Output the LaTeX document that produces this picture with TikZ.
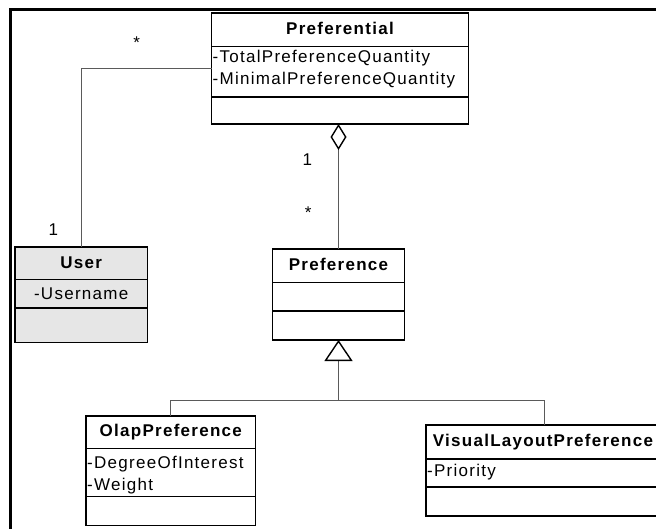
\documentclass[tikz,border=0pt]{standalone}
\usepackage{fontspec}
\setmainfont{Liberation Sans}
\newfontfamily\umlfont[LetterSpace=7.5]{Liberation Sans}
\usetikzlibrary{arrows.meta}
\definecolor{linkgray}{HTML}{5A5A5A}
\definecolor{userfill}{HTML}{E6E6E6}

% class box: name, left, top, right, divider 1, divider 2, bottom, fill
\newcommand\umlclass[8]{%
  \node[classbox, fill=#8, minimum width={#4-#2}, minimum height={#7-#3}] (#1) at (#2,#3) {};
  \draw[divider] (#2,#5) -- (#4,#5);
  \draw[divider] (#2,#6) -- (#4,#6);
}

\begin{document}
\begin{tikzpicture}[x=1pt, y=-1pt,
  classbox/.style={draw=black, line width=1.4pt, rectangle, inner sep=0pt, outer sep=0pt, anchor=north west},
  divider/.style={draw=black, line width=1.4pt},
  link/.style={draw=linkgray, line width=1pt},
  classname/.style={font=\umlfont\bfseries\fontsize{17}{20}\selectfont, anchor=base, inner sep=0pt},
  attrib/.style={font=\umlfont\fontsize{17}{20}\selectfont, anchor=base west, inner sep=0pt},
  mult/.style={font=\umlfont\fontsize{17}{20}\selectfont, anchor=base, inner sep=0pt},
  frame/.style={draw=black, line width=2.6pt}]

\useasboundingbox (0,0) rectangle (656,528);
\clip (0,0) rectangle (656,528);

% diagram frame
\draw[frame] (10.5,540) -- (10.5,9.5) -- (670,9.5);

% classes
\umlclass{preferential}{211.5}{13}{468.5}{46.3}{97}{124}{white}
\node[classname] (preferentialname) at (340,34) {Preferential};
\node[attrib] (prefattrA) at (212.5,62.3) {-TotalPreferenceQuantity};
\node[attrib] (prefattrB) at (212.5,84) {-MinimalPreferenceQuantity};

\umlclass{user}{15}{247}{147.3}{279.5}{308}{342.7}{userfill}
\node[classname] (username) at (81.2,268.7) {User};
\node[attrib, anchor=base] (userattr) at (81.2,299.3) {-Username};

\umlclass{preference}{272.7}{249}{404.3}{282.3}{311}{340}{white}
\node[classname] (preferencename) at (338.5,270.7) {Preference};

\umlclass{olap}{86}{416}{255.7}{448.3}{496.7}{525.7}{white}
\node[classname] (olapname) at (170.8,436.7) {OlapPreference};
\node[attrib] (olapattrA) at (87,468.3) {-DegreeOfInterest};
\node[attrib] (olapattrB) at (87,490) {-Weight};

\umlclass{visual}{426}{425}{662}{459}{487}{516}{white}
\node[classname] (visualname) at (543,446.7) {VisualLayoutPreference};
\node[attrib] (visualattr) at (427,476.7) {-Priority};

% association User -- Preferential
\draw[link] (user.north) |- (preferential.west);
\node[mult] (multstarA) at (136.7,48.6) {*};
\node[mult] (multoneA) at (53.3,235) {1};

% aggregation Preferential <>-- Preference
\draw[link, -{Diamond[color=black, fill=white, line width=1.4pt, length=26pt, width=16pt]}]
  (preference.north) -- (preference.north |- preferential.south);
\node[mult] (multoneB) at (307.3,165.7) {1};
\node[mult] (multstarB) at (308.3,218.6) {*};

% generalization
\coordinate (bus) at (338.5,400.5);
\draw[link] (olap.north) |- (bus) -| (visual.north);
\draw[link, -{Triangle[color=black, fill=white, line width=1.4pt, length=21pt, width=28pt]}]
  (bus) -- (preference.south);
\end{tikzpicture}
\end{document}
